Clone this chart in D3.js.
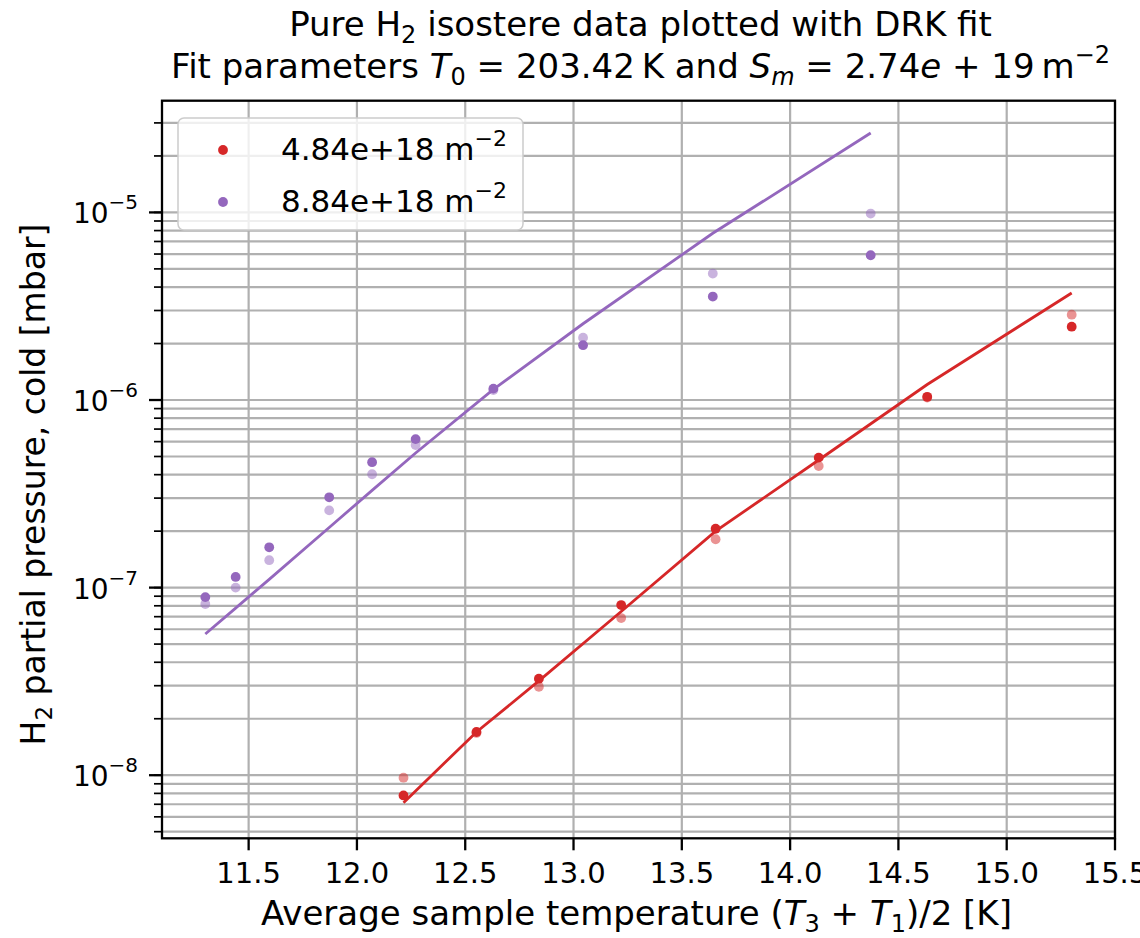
<!DOCTYPE html>
<html>
<head>
<meta charset="utf-8">
<script src="https://cdn.jsdelivr.net/npm/d3@7"></script>
<style>
  body { margin: 0; background: #fff; }
  text { font-family: "DejaVu Sans", sans-serif; fill: #000; }
</style>
</head>
<body>
<script>
// isostere data: temperature [K] vs H2 partial pressure [mbar]
const redTemps = [12.215, 12.552, 12.84, 13.22, 13.656, 14.132, 14.633, 15.30];
const redMeasA = [7.8e-9, 1.70e-8, 3.27e-8, 8.07e-8, 2.06e-7, 4.93e-7, 1.04e-6, 2.46e-6];
const redMeasB = [9.7e-9, 1.68e-8, 2.96e-8, 6.88e-8, 1.81e-7, 4.45e-7, 1.03e-6, 2.85e-6];
const redFit = [7.14e-9, 1.70e-8, 3.18e-8, 7.46e-8, 2.00e-7, 4.79e-7, 1.21e-6, 3.72e-6];

const purpleTemps = [11.30, 11.44, 11.595, 11.872, 12.07, 12.271, 12.63, 13.044, 13.643, 14.372];
const purpleMeasA = [8.9e-8, 1.14e-7, 1.64e-7, 3.03e-7, 4.66e-7, 6.19e-7, 1.15e-6, 1.96e-6, 3.56e-6, 5.91e-6];
const purpleMeasB = [8.17e-8, 1.0e-7, 1.40e-7, 2.58e-7, 4.02e-7, 5.75e-7, 1.13e-6, 2.15e-6, 4.72e-6, 9.86e-6];
const purpleFit = [5.66e-8, 7.78e-8, 1.107e-7, 2.09e-7, 3.30e-7, 5.22e-7, 1.14e-6, 2.55e-6, 7.74e-6, 2.65e-5];

const seriesLabels = ['4.84e+18', '8.84e+18'];
const xTicks = [11.5, 12.0, 12.5, 13.0, 13.5, 14.0, 14.5, 15.0, 15.5];
const yMajorExp = [-8, -7, -6, -5];

const red = '#d62728', purple = '#9467bd';

const W = 1140, H = 938;
const pLeft = 162, pRight = 1115, pTop = 100.7, pBottom = 838.3;

const svg = d3.select('body').append('svg')
    .attr('width', W)
    .attr('height', H);

const x = d3.scaleLinear().domain([11.1, 15.5]).range([pLeft, pRight]);
const y = d3.scaleLog().domain([4.61e-9, 3.94e-5]).range([pBottom, pTop]);

// grid: every minor + major on y, majors on x
const yMinor = [];
for (let e = -9; e <= -5; e++) {
  for (let k = 1; k <= 9; k++) {
    const v = k * Math.pow(10, e);
    if (v >= y.domain()[0] && v <= y.domain()[1]) yMinor.push(v);
  }
}
const grid = svg.append('g').attr('stroke', '#b0b0b0').attr('stroke-width', 2.2);
grid.selectAll('line.gy').data(yMinor).enter().append('line')
    .attr('x1', pLeft).attr('x2', pRight)
    .attr('y1', d => y(d)).attr('y2', d => y(d));
grid.selectAll('line.gx').data(xTicks).enter().append('line')
    .attr('y1', pTop).attr('y2', pBottom)
    .attr('x1', d => x(d)).attr('x2', d => x(d));

// measured points (second set faded, drawn underneath)
function dots(temps, vals, color, op) {
  svg.append('g').selectAll('circle')
    .data(temps.map((t, i) => [t, vals[i]]))
    .enter().append('circle')
    .attr('cx', d => x(d[0]))
    .attr('cy', d => y(d[1]))
    .attr('r', 4.9)
    .attr('fill', color)
    .attr('fill-opacity', op);
}
dots(redTemps, redMeasB, red, 0.5);
dots(purpleTemps, purpleMeasB, purple, 0.5);
dots(redTemps, redMeasA, red, 1);
dots(purpleTemps, purpleMeasA, purple, 1);

// DRK fit lines
const line = d3.line().x(d => x(d[0])).y(d => y(d[1]));
svg.append('path')
    .datum(redTemps.map((t, i) => [t, redFit[i]]))
    .attr('d', line).attr('fill', 'none').attr('stroke', red).attr('stroke-width', 2.8);
svg.append('path')
    .datum(purpleTemps.map((t, i) => [t, purpleFit[i]]))
    .attr('d', line).attr('fill', 'none').attr('stroke', purple).attr('stroke-width', 2.8);

// spines
svg.append('rect')
    .attr('x', pLeft).attr('y', pTop)
    .attr('width', pRight - pLeft).attr('height', pBottom - pTop)
    .attr('fill', 'none').attr('stroke', '#000').attr('stroke-width', 2.3);

// x axis ticks
const xAxis = svg.append('g');
xAxis.selectAll('line').data(xTicks).enter().append('line')
    .attr('x1', d => x(d)).attr('x2', d => x(d))
    .attr('y1', pBottom).attr('y2', pBottom + 12)
    .attr('stroke', '#000').attr('stroke-width', 2.3);
xAxis.selectAll('text').data(xTicks).enter().append('text')
    .attr('x', d => x(d)).attr('y', pBottom + 45)
    .attr('text-anchor', 'middle')
    .attr('font-size', 29)
    .text(d => d.toFixed(1));

// y axis ticks
const yAxis = svg.append('g');
yAxis.selectAll('line.minor').data(yMinor).enter().append('line')
    .attr('x1', pLeft - 8).attr('x2', pLeft)
    .attr('y1', d => y(d)).attr('y2', d => y(d))
    .attr('stroke', '#000').attr('stroke-width', 1.7);
yAxis.selectAll('line.major').data(yMajorExp).enter().append('line')
    .attr('x1', pLeft - 13).attr('x2', pLeft)
    .attr('y1', d => y(Math.pow(10, d))).attr('y2', d => y(Math.pow(10, d)))
    .attr('stroke', '#000').attr('stroke-width', 2.3);
const yl = yAxis.selectAll('text').data(yMajorExp).enter().append('text')
    .attr('x', pLeft - 24)
    .attr('y', d => y(Math.pow(10, d)) + 11)
    .attr('text-anchor', 'end')
    .attr('font-size', 28);
yl.append('tspan').text('10');
yl.append('tspan').attr('dy', -14).attr('font-size', 20).text(d => '\u2212' + (-d));

// axis labels
const xl = svg.append('text')
    .attr('x', (pLeft + pRight) / 2 - 2).attr('y', 925)
    .attr('text-anchor', 'middle').attr('font-size', 34);
xl.append('tspan').text('Average sample temperature (');
xl.append('tspan').attr('font-style', 'italic').text('T');
xl.append('tspan').attr('dy', 7).attr('font-size', 24).text('3');
xl.append('tspan').attr('dy', -7).text(' + ');
xl.append('tspan').attr('font-style', 'italic').text('T');
xl.append('tspan').attr('dy', 7).attr('font-size', 24).text('1');
xl.append('tspan').attr('dy', -7).text(')/2 [K]');

const ylab = svg.append('text')
    .attr('transform', `translate(45, ${(pTop + pBottom) / 2 + 15}) rotate(-90)`)
    .attr('text-anchor', 'middle').attr('font-size', 33);
ylab.append('tspan').text('H');
ylab.append('tspan').attr('dy', 7).attr('font-size', 23).text('2');
ylab.append('tspan').attr('dy', -7).text(' partial pressure, cold [mbar]');

// title
const t1 = svg.append('text')
    .attr('x', (pLeft + pRight) / 2 + 2).attr('y', 36)
    .attr('text-anchor', 'middle').attr('font-size', 34);
t1.append('tspan').text('Pure H');
t1.append('tspan').attr('dy', 7).attr('font-size', 24).text('2');
t1.append('tspan').attr('dy', -7).text(' isostere data plotted with DRK fit');

const t2 = svg.append('text')
    .attr('x', (pLeft + pRight) / 2 + 2).attr('y', 78)
    .attr('text-anchor', 'middle').attr('font-size', 34);
t2.append('tspan').text('Fit parameters ');
t2.append('tspan').attr('font-style', 'italic').text('T');
t2.append('tspan').attr('dy', 7).attr('font-size', 24).text('0');
t2.append('tspan').attr('dy', -7).text(' = 203.42\u2009K and ');
t2.append('tspan').attr('font-style', 'italic').text('S');
t2.append('tspan').attr('dy', 7).attr('font-size', 24).attr('font-style', 'italic').text('m');
t2.append('tspan').attr('dy', -7).text(' = 2.74');
t2.append('tspan').attr('font-style', 'italic').text('e');
t2.append('tspan').text(' + 19\u2009m');
t2.append('tspan').attr('dy', -15).attr('font-size', 24).text('\u22122');

// legend
const lg = svg.append('g');
lg.append('rect')
    .attr('x', 178).attr('y', 118).attr('width', 345).attr('height', 112)
    .attr('rx', 6)
    .attr('fill', '#fff').attr('fill-opacity', 0.8)
    .attr('stroke', '#cccccc').attr('stroke-width', 1.5);
const items = lg.selectAll('g.item')
    .data(seriesLabels.map((s, i) => ({ s, c: i === 0 ? red : purple })))
    .enter().append('g')
    .attr('transform', (d, i) => `translate(0, ${150 + i * 52})`);
items.append('circle').attr('cx', 223).attr('cy', 0).attr('r', 4.9).attr('fill', d => d.c);
const it = items.append('text').attr('x', 281).attr('y', 10).attr('font-size', 31);
it.append('tspan').text(d => d.s + ' m');
it.append('tspan').attr('dy', -14).attr('font-size', 22).text('\u22122');
</script>
</body>
</html>
